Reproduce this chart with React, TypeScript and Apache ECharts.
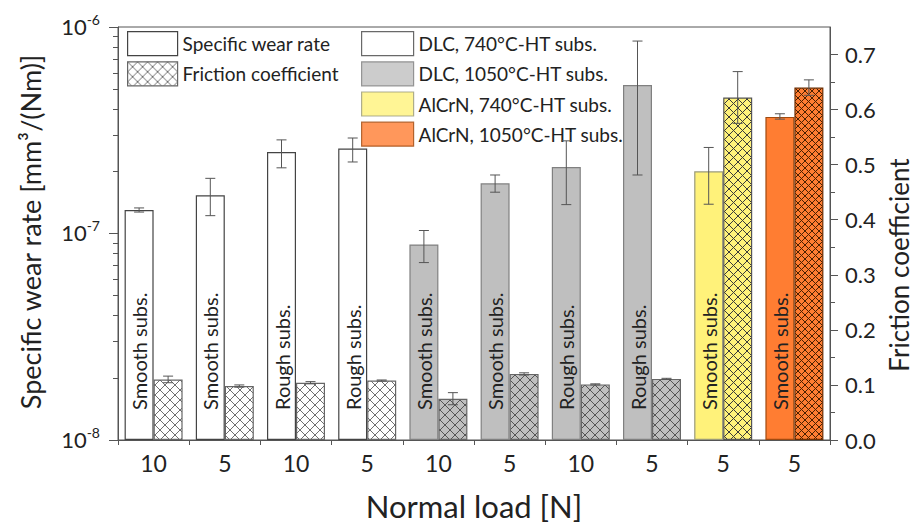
import React, { useEffect, useRef } from "react";
import * as echarts from "echarts";

// ---------------- data ----------------
const categories = ["10", "5", "10", "5", "10", "5", "10", "5", "5", "5"];
const substrate = [
  "Smooth subs.", "Smooth subs.", "Rough subs.", "Rough subs.",
  "Smooth subs.", "Smooth subs.", "Rough subs.", "Rough subs.",
  "Smooth subs.", "Smooth subs.",
];
const groupOf = [0, 0, 0, 0, 1, 1, 1, 1, 2, 3];
const groupNames = [
  "DLC, 740°C-HT subs.",
  "DLC, 1050°C-HT subs.",
  "AlCrN, 740°C-HT subs.",
  "AlCrN, 1050°C-HT subs.",
];
const wearRate = [1.3e-7, 1.53e-7, 2.48e-7, 2.58e-7, 8.85e-8, 1.75e-7, 2.1e-7, 5.24e-7, 2.0e-7, 3.67e-7];
const wearLow = [1.27e-7, 1.22e-7, 2.08e-7, 2.22e-7, 7.23e-8, 1.585e-7, 1.38e-7, 1.92e-7, 1.386e-7, 3.58e-7];
const wearHigh = [1.33e-7, 1.85e-7, 2.84e-7, 2.9e-7, 1.034e-7, 1.92e-7, 2.81e-7, 8.55e-7, 2.61e-7, 3.8e-7];
const friction = [0.11, 0.098, 0.104, 0.108, 0.075, 0.12, 0.101, 0.111, 0.622, 0.64];
const frictionErr = [0.006, 0.002, 0.002, 0.001, 0.011, 0.002, 0.001, 0.001, 0.047, 0.014];
const leftDecades = [-8, -7, -6];
const rightTicks = [0, 0.1, 0.2, 0.3, 0.4, 0.5, 0.6, 0.7];
const rightMinorTicks = [0.05, 0.15, 0.25, 0.35, 0.45, 0.55, 0.65];
const xName = "Normal load [N]";
const leftName = "Specific wear rate [mm³/(Nm)]";
const rightName = "Friction coefficient";

// ---------------- styles ----------------
const FONT = "Lato, 'Open Sans', sans-serif";
const TEXT = "#222";
const AXIS = "#555";
const BAR_W = 29;
const groupFill = ["#ffffff", "#bfbfbf", "#fff27a", "#ff7d32"];
const groupBorder = ["#444444", "#808080", "#9a9a7a", "#a04a10"];
const hatchLine = ["#707070", "#555555", "#3a3a3a", "#4a2000"];
const hatchSize = [10, 10, 9, 7];
const hatchBorder = ["#666666", "#666666", "#555555", "#6b2c00"];

function hatch(bg: string, line: string, size: number) {
  const c = document.createElement("canvas");
  c.width = size;
  c.height = size;
  const ctx = c.getContext("2d")!;
  ctx.fillStyle = bg;
  ctx.fillRect(0, 0, size, size);
  ctx.strokeStyle = line;
  ctx.lineWidth = 1;
  ctx.beginPath();
  ctx.moveTo(-1, -1);
  ctx.lineTo(size + 1, size + 1);
  ctx.moveTo(size + 1, -1);
  ctx.lineTo(-1, size + 1);
  ctx.stroke();
  return { image: c, repeat: "repeat" as const, imageWidth: size, imageHeight: size };
}

export default function App() {
  const ref = useRef<HTMLDivElement>(null);

  useEffect(() => {
    if (!ref.current) return;
    const chart = echarts.init(ref.current, null, { renderer: "svg" });
    const LOG_MIN = leftDecades[0];
    const LOG_SPAN = leftDecades[leftDecades.length - 1] - LOG_MIN;
    const toAxis = (v: number) => Math.log10(v) - LOG_MIN;

    const minorLeft: number[] = [];
    for (let d = 0; d < leftDecades.length - 1; d++) {
      for (let k = 2; k <= 9; k++) minorLeft.push(Math.log10(k) + d);
    }

    const patterns = groupFill.map((f, g) => hatch(f, hatchLine[g], hatchSize[g]));

    const errRender = (offset: number) => (params: any, api: any) => {
      const idx = api.value(0);
      const top = api.coord([idx, api.value(2)]);
      const bot = api.coord([idx, api.value(1)]);
      const x = top[0] + offset;
      const cap = 5;
      const style = { stroke: AXIS, lineWidth: 1 };
      return {
        type: "group",
        children: [
          { type: "line", shape: { x1: x, y1: top[1], x2: x, y2: bot[1] }, style },
          { type: "line", shape: { x1: x - cap, y1: top[1], x2: x + cap, y2: top[1] }, style },
          { type: "line", shape: { x1: x - cap, y1: bot[1], x2: x + cap, y2: bot[1] }, style },
        ],
      };
    };

    const legendText = { fontFamily: FONT, fontSize: 19, color: TEXT };

    const option: any = {
      animation: false,
      backgroundColor: "#ffffff",
      textStyle: { fontFamily: FONT },
      grid: {
        left: 118,
        right: 89,
        top: 27,
        bottom: 78,
        show: true,
        borderColor: AXIS,
        borderWidth: 1,
        containLabel: false,
      },
      graphic: [
        {
          type: "text",
          x: 30,
          y: 232,
          rotation: Math.PI / 2,
          style: {
            text: leftName,
            fontFamily: FONT,
            fontSize: 27,
            fill: TEXT,
            align: "center",
            verticalAlign: "middle",
          },
        },
        {
          type: "text",
          x: 899,
          y: 265,
          rotation: Math.PI / 2,
          style: {
            text: rightName,
            fontFamily: FONT,
            fontSize: 26,
            fill: TEXT,
            align: "center",
            verticalAlign: "middle",
          },
        },
      ],
      legend: [
        {
          left: 127,
          top: 31,
          orient: "vertical",
          padding: 0,
          itemWidth: 50,
          itemHeight: 24,
          itemGap: 5,
          selectedMode: false,
          textStyle: legendText,
          data: [
            { name: "Specific wear rate", icon: "rect", itemStyle: { color: "#fff", borderColor: "#444", borderWidth: 1.2 } },
            { name: "Friction coefficient", icon: "rect", itemStyle: { color: patterns[0], borderColor: "#666", borderWidth: 1.2 } },
          ],
        },
        {
          left: 361,
          top: 31,
          orient: "vertical",
          padding: 0,
          itemWidth: 52,
          itemHeight: 24,
          itemGap: 5,
          selectedMode: false,
          textStyle: legendText,
          data: groupNames.map((n, g) => ({
            name: n,
            icon: "rect",
            itemStyle: { color: groupFill[g], borderColor: groupBorder[g], borderWidth: 1.2 },
          })),
        },
      ],
      xAxis: {
        type: "category",
        data: categories,
        boundaryGap: true,
        axisLine: { lineStyle: { color: AXIS } },
        axisTick: { show: true, length: 5, lineStyle: { color: AXIS } },
        axisLabel: { fontFamily: FONT, fontSize: 23, color: TEXT, margin: 11 },
        name: xName,
        nameLocation: "middle",
        nameGap: 50,
        nameTextStyle: { fontFamily: FONT, fontSize: 31, color: TEXT },
      },
      yAxis: [
        {
          type: "value",
          position: "left",
          min: 0,
          max: LOG_SPAN,
          interval: 1,
          axisLine: { show: true, lineStyle: { color: AXIS } },
          axisTick: { show: true, length: 9, lineStyle: { color: AXIS } },
          splitLine: { show: false },
          axisLabel: {
            margin: 18,
            padding: [0, 0, 8, 0],
            formatter: (v: number) => `{a|10}{b|${Math.round(v) + LOG_MIN}}`,
            rich: {
              a: { fontFamily: FONT, fontSize: 22, color: TEXT, lineHeight: 22, padding: [6, 0, 0, 0] },
              b: { fontFamily: FONT, fontSize: 14, color: TEXT, lineHeight: 14, verticalAlign: "top" },
            },
          },
        },
        {
          type: "value",
          position: "left",
          min: 0,
          max: LOG_SPAN,
          axisLine: { show: false },
          axisLabel: { show: false },
          splitLine: { show: false },
          axisTick: { show: true, length: 5, customValues: minorLeft, lineStyle: { color: AXIS } },
        },
        {
          type: "value",
          position: "right",
          min: 0,
          max: 0.75,
          axisLine: { show: true, lineStyle: { color: AXIS } },
          axisTick: { show: true, length: 8, customValues: rightTicks, lineStyle: { color: AXIS } },
          splitLine: { show: false },
          axisLabel: {
            customValues: rightTicks,
            formatter: (v: number) => v.toFixed(1),
            fontFamily: FONT,
            fontSize: 22,
            color: TEXT,
            margin: 15,
          },
        },
        {
          type: "value",
          position: "right",
          min: 0,
          max: 0.75,
          axisLine: { show: false },
          axisLabel: { show: false },
          splitLine: { show: false },
          axisTick: { show: true, length: 5, customValues: rightMinorTicks, lineStyle: { color: AXIS } },
        },
      ],
      series: [
        {
          name: "Specific wear rate",
          type: "bar",
          xAxisIndex: 0,
          yAxisIndex: 0,
          barWidth: BAR_W,
          barGap: "0%",
          itemStyle: { color: "#fff", borderColor: "#444", borderWidth: 1.2 },
          label: {
            show: true,
            position: "insideBottom",
            distance: 30,
            rotate: 90,
            align: "left",
            verticalAlign: "middle",
            fontFamily: FONT,
            fontSize: 20,
            color: TEXT,
            formatter: (p: any) => substrate[p.dataIndex],
          },
          data: wearRate.map((v, i) => ({
            value: toAxis(v),
            itemStyle: {
              color: groupFill[groupOf[i]],
              borderColor: groupBorder[groupOf[i]],
              borderWidth: 1.2,
            },
          })),
        },
        {
          name: "Friction coefficient",
          type: "bar",
          xAxisIndex: 0,
          yAxisIndex: 2,
          barWidth: BAR_W,
          barGap: "0%",
          itemStyle: { color: patterns[0], borderColor: "#666", borderWidth: 1.2 },
          data: friction.map((v, i) => ({
            value: v,
            itemStyle: {
              color: patterns[groupOf[i]],
              borderColor: hatchBorder[groupOf[i]],
              borderWidth: 1.2,
            },
          })),
        },
        {
          type: "custom",
          xAxisIndex: 0,
          yAxisIndex: 0,
          renderItem: errRender(-BAR_W / 2),
          encode: { x: 0, y: [1, 2] },
          z: 5,
          data: wearRate.map((_, i) => [i, toAxis(wearLow[i]), toAxis(wearHigh[i])]),
        },
        {
          type: "custom",
          xAxisIndex: 0,
          yAxisIndex: 2,
          renderItem: errRender(BAR_W / 2),
          encode: { x: 0, y: [1, 2] },
          z: 5,
          data: friction.map((v, i) => [i, v - frictionErr[i], v + frictionErr[i]]),
        },
        ...groupNames.map((n, g) => ({
          name: n,
          type: "scatter",
          xAxisIndex: 0,
          yAxisIndex: 0,
          data: [],
          itemStyle: { color: groupFill[g], borderColor: groupBorder[g] },
        })),
      ],
    };

    chart.setOption(option);
    return () => chart.dispose();
  }, []);

  return (
    <div
      ref={ref}
      style={{ position: "fixed", left: 0, top: 0, width: 919, height: 526, background: "#fff" }}
    />
  );
}
